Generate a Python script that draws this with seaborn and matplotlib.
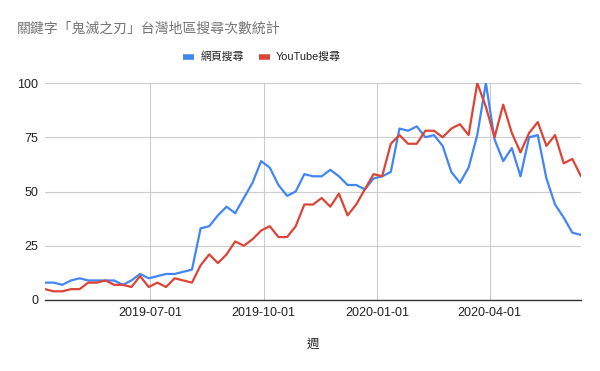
import matplotlib
matplotlib.use("Agg")
import matplotlib.pyplot as plt
from matplotlib.lines import Line2D
import seaborn as sns
import pandas as pd

title = "關鍵字「鬼滅之刃」台灣地區搜尋次數統計"
series_names = ["網頁搜尋", "YouTube搜尋"]
start_week = "2019-04-07"
web = [8, 8, 7, 9, 10, 9, 9, 9, 9, 7, 9, 12, 10, 11, 12, 12, 13, 14, 33, 34,
       39, 43, 40, 47, 54, 64, 61, 53, 48, 50, 58, 57, 57, 60, 57, 53, 53, 51,
       56, 57, 59, 79, 78, 80, 75, 76, 71, 59, 54, 61, 76, 100, 74, 64, 70, 57,
       75, 76, 56, 44, 38, 31, 30]
youtube = [5, 4, 4, 5, 5, 8, 8, 9, 7, 7, 6, 11, 6, 8, 6, 10, 9, 8, 16, 21,
           17, 21, 27, 25, 28, 32, 34, 29, 29, 34, 44, 44, 47, 43, 49, 39, 44, 51,
           58, 57, 72, 76, 72, 72, 78, 78, 75, 79, 81, 76, 100, 89, 75, 90, 77, 68,
           77, 82, 71, 76, 63, 65, 57]
tick_dates = ["2019-07-01", "2019-10-01", "2020-01-01", "2020-04-01"]
y_ticks = [0, 25, 50, 75, 100]
x_label = "週"

colors = ["#4285F4", "#DB4437"]

weeks = pd.date_range(start_week, periods=len(web), freq="7D")
df = pd.DataFrame({
    "week": list(weeks) * 2,
    "value": web + youtube,
    "series": [series_names[0]] * len(web) + [series_names[1]] * len(youtube),
})

sns.set_theme(style="white")
plt.rcParams["font.family"] = ["Liberation Sans", "Noto Sans CJK TC", "DejaVu Sans"]

fig = plt.figure(figsize=(6, 3.71), dpi=100)
ax = fig.add_axes([45 / 600, 1 - 300 / 371, (581 - 45) / 600, (300 - 83) / 371])

sns.lineplot(data=df, x="week", y="value", hue="series", palette=colors,
             linewidth=1.6, ax=ax, legend=False, zorder=3)

ax.set_ylim(0, 100)
ax.set_xlim(weeks[0], weeks[-1])
ax.set_yticks(y_ticks)
ax.set_yticklabels([str(v) for v in y_ticks])
xt = pd.to_datetime(tick_dates)
ax.set_xticks(xt)
ax.set_xticklabels(tick_dates)

ax.grid(True, color="#cccccc", linewidth=0.8, zorder=0)
for side in ["left", "right", "top"]:
    ax.spines[side].set_visible(False)
ax.spines["bottom"].set_color("#333333")
ax.spines["bottom"].set_linewidth(1.0)
ax.spines["bottom"].set_zorder(4)
ax.tick_params(axis="both", length=0, labelsize=9, colors="#222222")
ax.tick_params(axis="x", pad=5)
ax.tick_params(axis="y", pad=5)
ax.set_xlabel("")
ax.set_ylabel("")

fig.text(17 / 600, 1 - 29 / 371, title, fontsize=10, color="#757575",
         ha="left", va="center")
fig.text(313 / 600, 1 - 345 / 371, x_label, fontsize=9, color="#222222",
         ha="center", va="center")

handles = [Line2D([0], [0], color=c, linewidth=4, solid_capstyle="butt") for c in colors]
fig.legend(handles, series_names, loc="center", bbox_to_anchor=(262 / 600, 1 - 57 / 371),
           ncol=2, frameon=False, fontsize=7.8, handlelength=1.0, handletextpad=0.6,
           columnspacing=1.4, labelcolor="#222222")

fig.savefig("out.png", dpi=100)
